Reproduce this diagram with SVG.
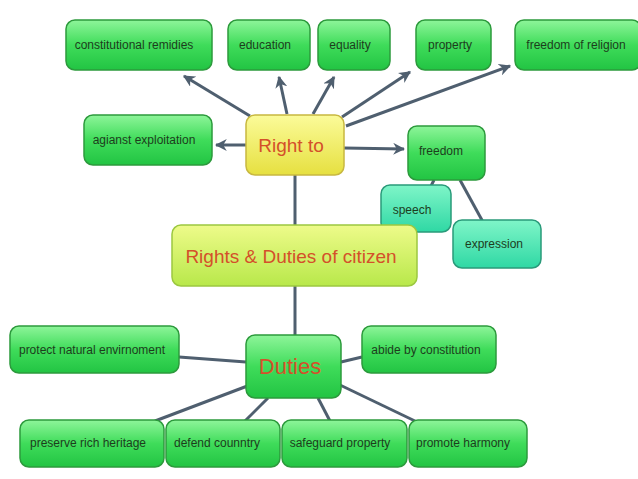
<svg xmlns="http://www.w3.org/2000/svg" width="638" height="479" viewBox="0 0 638 479">
<defs>
<linearGradient id="g" x1="0" y1="0" x2="0" y2="1"><stop offset="0" stop-color="#8ef59a"/><stop offset="0.5" stop-color="#3fdc5a"/><stop offset="1" stop-color="#22c443"/></linearGradient>
<linearGradient id="y" x1="0" y1="0" x2="0" y2="1"><stop offset="0" stop-color="#fbfb9a"/><stop offset="1" stop-color="#e6e040"/></linearGradient>
<linearGradient id="yg" x1="0" y1="0" x2="0" y2="1"><stop offset="0" stop-color="#eefb8a"/><stop offset="1" stop-color="#b8e84a"/></linearGradient>
<linearGradient id="t" x1="0" y1="0" x2="0" y2="1"><stop offset="0" stop-color="#7ff5c8"/><stop offset="1" stop-color="#2fd8a4"/></linearGradient>
<marker id="a" viewBox="0 0 10 10" refX="9" refY="5" markerWidth="4" markerHeight="4" orient="auto"><path d="M0,0L10,5L0,10L3,5z" fill="#4f5f6f"/></marker>
</defs>
<style>
.n{fill:url(#g);stroke:#2c9a3c;stroke-width:1.5}
.tl{fill:url(#t);stroke:#2a9a7a;stroke-width:1.5}
text{font-family:"Liberation Sans",Arial,sans-serif;font-size:12px;fill:#1d3d1d;text-anchor:middle;dominant-baseline:central}
.big{font-size:19px;fill:#d4502a}
.c line{stroke:#4f5f6f;stroke-width:3}
.c .ar{marker-end:url(#a)}
</style>
<rect width="638" height="479" fill="#fff"/>
<g class="c">
<line class="ar" x1="250" y1="116" x2="184" y2="76"/>
<line class="ar" x1="287" y1="114" x2="279" y2="77"/>
<line class="ar" x1="313" y1="114" x2="334" y2="77"/>
<line class="ar" x1="342" y1="117" x2="410" y2="72"/>
<line class="ar" x1="346" y1="126" x2="510" y2="66"/>
<line class="ar" x1="246" y1="145" x2="216" y2="145"/>
<line class="ar" x1="344" y1="148" x2="404" y2="149"/>
<line x1="434" y1="180" x2="428" y2="192"/>
<line x1="460" y1="180" x2="483" y2="222"/>
<line x1="295" y1="175" x2="295" y2="226"/>
<line x1="295" y1="286" x2="295" y2="336"/>
<line x1="179" y1="357" x2="246" y2="362"/>
<line x1="341" y1="362" x2="362" y2="357"/>
<line x1="155" y1="421" x2="250" y2="385"/>
<line x1="245" y1="421" x2="268" y2="398"/>
<line x1="330" y1="421" x2="318" y2="398"/>
<line x1="415" y1="421" x2="340" y2="385"/>
</g>
<g id="n1"><rect class="n" x="66" y="20" width="146" height="50" rx="9"/><text x="134" y="45">constitutional remidies</text></g>
<g id="n2"><rect class="n" x="228" y="20" width="82" height="50" rx="9"/><text x="265" y="45">education</text></g>
<g id="n3"><rect class="n" x="318" y="20" width="72" height="50" rx="9"/><text x="350" y="45">equality</text></g>
<g id="n4"><rect class="n" x="416" y="20" width="75" height="50" rx="9"/><text x="450" y="45">property</text></g>
<g id="n5"><rect class="n" x="515" y="20" width="126" height="50" rx="9"/><text x="576" y="45">freedom of religion</text></g>
<g id="n6"><rect class="n" x="84" y="115" width="128" height="50" rx="9"/><text x="144" y="140">agianst exploitation</text></g>
<g id="n7"><rect x="246" y="115" width="98" height="60" rx="9" fill="url(#y)" stroke="#c8b840" stroke-width="1.5"/><text class="big" x="291" y="145">Right to</text></g>
<g id="n9"><rect class="tl" x="381" y="185" width="70" height="47" rx="9"/><text x="412" y="210">speech</text></g>
<g id="n8"><rect class="n" x="408" y="126" width="77" height="54" rx="9"/><text x="441" y="151">freedom</text></g>
<g id="n10"><rect class="tl" x="453" y="220" width="88" height="48" rx="9"/><text x="494" y="244">expression</text></g>
<g id="n11"><rect x="172" y="225" width="245" height="61" rx="9" fill="url(#yg)" stroke="#9cc840" stroke-width="1.5"/><text class="big" x="291" y="256">Rights &amp; Duties of citizen</text></g>
<g id="n12"><rect class="n" x="10" y="326" width="169" height="47" rx="9"/><text x="92" y="350">protect natural envirnoment</text></g>
<g id="n13"><rect class="n" x="246" y="335" width="95" height="63" rx="9"/><text class="big" x="290" y="366" style="font-size:22px">Duties</text></g>
<g id="n14"><rect class="n" x="362" y="326" width="134" height="47" rx="9"/><text x="426" y="350">abide by constitution</text></g>
<g id="n15"><rect class="n" x="20" y="420" width="144" height="47" rx="9"/><text x="88" y="443">preserve rich heritage</text></g>
<g id="n16"><rect class="n" x="166" y="420" width="114" height="47" rx="9"/><text x="217" y="443">defend counntry</text></g>
<g id="n17"><rect class="n" x="282" y="420" width="125" height="47" rx="9"/><text x="340" y="443">safeguard property</text></g>
<g id="n18"><rect class="n" x="409" y="420" width="118" height="47" rx="9"/><text x="463" y="443">promote harmony</text></g>
</svg>
